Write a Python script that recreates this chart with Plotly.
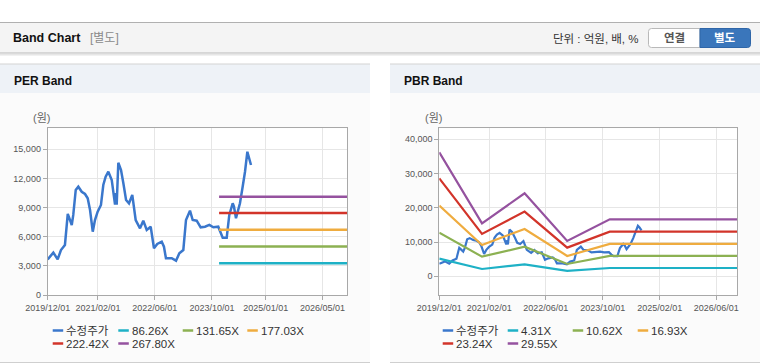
import plotly.graph_objects as go

W, H = 760, 364

# ---------------- data ----------------
price_dates = [
    "2019-12-01", "2020-01-18", "2020-02-24", "2020-03-23", "2020-04-26", "2020-05-20",
    "2020-06-08", "2020-06-23", "2020-07-06", "2020-07-27", "2020-08-18", "2020-09-16",
    "2020-10-14", "2020-11-06", "2020-11-26", "2020-12-19", "2021-01-07", "2021-01-30",
    "2021-02-27", "2021-03-19", "2021-04-08", "2021-05-01", "2021-05-30", "2021-06-18",
    "2021-06-27", "2021-07-05", "2021-07-11", "2021-07-25", "2021-08-17", "2021-09-06",
    "2021-09-29", "2021-10-24", "2021-11-21", "2021-12-20", "2022-01-26", "2022-02-23",
    "2022-03-24", "2022-04-27", "2022-05-25", "2022-06-22", "2022-07-30", "2022-08-18",
    "2022-09-04", "2022-10-23", "2022-11-29", "2022-12-27", "2023-01-30", "2023-02-22",
    "2023-03-28", "2023-04-20", "2023-05-24", "2023-06-27", "2023-08-03", "2023-09-09",
    "2023-10-13", "2023-11-24", "2023-12-15", "2024-01-01", "2024-02-04", "2024-02-26",
    "2024-03-26", "2024-04-06", "2024-04-23", "2024-05-08", "2024-05-27", "2024-06-19",
    "2024-07-09", "2024-07-29", "2024-08-12", "2024-08-29",
]
price_values = [
    3670, 4360, 3670, 4630, 5150, 8340,
    7720, 7210, 8240, 10810, 11150, 10630,
    10400, 9950, 8750, 6520, 7720, 8580,
    9270, 11320, 12180, 12690, 11840, 10400,
    9300, 10500, 9300, 13620, 12870, 11500,
    9780, 9440, 10300, 7720, 6860, 7650,
    6690, 7030, 4810, 5250, 5490, 4970,
    3780, 3780, 3530, 4290, 4630, 7720,
    8680, 7720, 7650, 6970, 7030, 7210,
    6970, 7030, 6350, 5900, 5900, 8240,
    9440, 9090, 7900, 8580, 9440, 11150,
    12690, 14750, 14230, 13380,
]
price_name = "수정주가"

per_names = ["86.26X", "131.65X", "177.03X", "222.42X", "267.80X"]
per_band_dates = ["2023-12-01", "2026-12-01"]
per_band_values = [3280, 4990, 6720, 8440, 10120]

pbr_names = ["4.31X", "10.62X", "16.93X", "23.24X", "29.55X"]
pbr_band_dates = ["2019-12-01", "2020-12-01", "2021-12-01", "2022-12-01", "2023-12-01", "2026-12-01"]
pbr_band_4_31 = [5160, 2140, 3500, 1560, 2430, 2430]
pbr_band_10_62 = [12750, 5740, 8660, 3600, 5940, 5940]
pbr_band_16_93 = [20630, 9150, 13820, 5940, 9440, 9440]
pbr_band_23_24 = [28610, 12360, 18880, 8370, 13040, 13040]
pbr_band_29_55 = [36200, 15470, 24230, 10320, 16640, 16640]
pbr_band_values = [pbr_band_4_31, pbr_band_10_62, pbr_band_16_93, pbr_band_23_24, pbr_band_29_55]

per_tickvals = ["2019-12-01", "2021-02-01", "2022-06-01", "2023-10-01", "2025-01-01", "2026-05-01"]
per_ticktext = ["2019/12/01", "2021/02/01", "2022/06/01", "2023/10/01", "2025/01/01", "2026/05/01"]
pbr_tickvals = ["2019-12-01", "2021-02-01", "2022-06-01", "2023-10-01", "2025-02-01", "2026-06-01"]
pbr_ticktext = ["2019/12/01", "2021/02/01", "2022/06/01", "2023/10/01", "2025/02/01", "2026/06/01"]
x_range = ["2019-12-01", "2026-11-28"]

price_color = "#3a77cc"
band_colors = ["#1eb1c6", "#8cb152", "#efac3f", "#d2342a", "#95529f"]

# ---------------- helpers ----------------
def fx(x):
    return x / W

def fy(y):
    return 1 - y / H

shapes = []
annotations = []

def rect(x0, y0, x1, y1, fill, line=None, lw=0):
    shapes.append(dict(type="rect", xref="paper", yref="paper", layer="below",
                       x0=fx(x0), x1=fx(x1), y0=fy(y1), y1=fy(y0),
                       fillcolor=fill, line=dict(width=lw, color=line or fill)))

def hline(x0, x1, y, color, lw=1):
    shapes.append(dict(type="line", xref="paper", yref="paper", layer="below",
                       x0=fx(x0), x1=fx(x1), y0=fy(y), y1=fy(y),
                       line=dict(width=lw, color=color)))

def text(x, y, s, size=12, color="#222", bold=False, xanchor="left", family="Liberation Sans, Noto Sans CJK KR"):
    annotations.append(dict(xref="paper", yref="paper", x=fx(x), y=fy(y), text=("<b>%s</b>" % s) if bold else s,
                            showarrow=False, xanchor=xanchor, yanchor="middle",
                            font=dict(size=size, color=color, family=family)))

def rounded_path(x0, y0, x1, y1, r, left=True, right=True):
    X = lambda v: fx(v)
    Y = lambda v: fy(v)
    p = []
    if left:
        p.append("M %f %f" % (X(x0 + r), Y(y0)))
    else:
        p.append("M %f %f" % (X(x0), Y(y0)))
    if right:
        p.append("L %f %f Q %f %f %f %f" % (X(x1 - r), Y(y0), X(x1), Y(y0), X(x1), Y(y0 + r)))
        p.append("L %f %f Q %f %f %f %f" % (X(x1), Y(y1 - r), X(x1), Y(y1), X(x1 - r), Y(y1)))
    else:
        p.append("L %f %f L %f %f" % (X(x1), Y(y0), X(x1), Y(y1)))
    if left:
        p.append("L %f %f Q %f %f %f %f" % (X(x0 + r), Y(y1), X(x0), Y(y1), X(x0), Y(y1 - r)))
        p.append("L %f %f Q %f %f %f %f Z" % (X(x0), Y(y0 + r), X(x0), Y(y0), X(x0 + r), Y(y0)))
    else:
        p.append("L %f %f Z" % (X(x0), Y(y1)))
    return " ".join(p)

# ---------------- page chrome ----------------
rect(0, 22, 760, 53, "#f4f4f4")
hline(0, 760, 22.5, "#b0b0b0", 1)
hline(0, 760, 53, "#b8b8b8", 1)
hline(0, 760, 54.2, "#d8d8d8", 1)
hline(0, 760, 55.3, "#eeeeee", 1)
text(11, 38.5, "Band Chart", 12.5, "#111", bold=True)
text(88, 38.5, "[별도]", 12, "#8a8a8a")
text(641, 39, "단위 : 억원, 배, %", 11.5, "#333", xanchor="right")
shapes.append(dict(type="path", xref="paper", yref="paper", layer="below",
                   path=rounded_path(648.5, 28.5, 700, 47.5, 3, left=True, right=False),
                   fillcolor="#ffffff", line=dict(color="#b9b9b9", width=1)))
shapes.append(dict(type="path", xref="paper", yref="paper", layer="below",
                   path=rounded_path(700, 28.5, 750.5, 47.5, 3, left=False, right=True),
                   fillcolor="#3a76bb", line=dict(color="#2f66a8", width=1)))
text(674.3, 38.5, "연결", 11.5, "#555", bold=True, xanchor="center")
text(725.3, 38.5, "별도", 11.5, "#ffffff", bold=True, xanchor="center")

panels = [(0, 370, "PER Band"), (390, 760, "PBR Band")]
for (px0, px1, title) in panels:
    rect(px0, 64, px1, 93, "#eef2f7")
    rect(px0, 93, px1, 362, "#fbfbfb")
    hline(px0, px1, 64, "#d3d3d3", 1)
    hline(px0, px1, 362.5, "#cfcfcf", 1.2)
    text(px0 + 11.5, 80.5, title, 12, "#111", bold=True)

# plot area backgrounds
rect(47.7, 128.3, 347.3, 295, "#ffffff")
rect(439.3, 128.3, 737.3, 295, "#ffffff")

text(31, 118, "(원)", 11, "#666")
text(423, 118, "(원)", 11, "#666")

# ---------------- traces ----------------
fig = go.Figure()
fig.add_trace(go.Scatter(x=price_dates, y=price_values, mode="lines", name=price_name,
                         line=dict(color=price_color, width=2.5), xaxis="x", yaxis="y", showlegend=False))
for name, val, col in zip(per_names, per_band_values, band_colors):
    fig.add_trace(go.Scatter(x=per_band_dates, y=[val, val], mode="lines", name=name,
                             line=dict(color=col, width=2.5), xaxis="x", yaxis="y", showlegend=False))
fig.add_trace(go.Scatter(x=price_dates, y=price_values, mode="lines", name=price_name,
                         line=dict(color=price_color, width=2.2), xaxis="x2", yaxis="y2", showlegend=False))
for name, vals, col in zip(pbr_names, pbr_band_values, band_colors):
    fig.add_trace(go.Scatter(x=pbr_band_dates, y=vals, mode="lines", name=name,
                             line=dict(color=col, width=2.2), xaxis="x2", yaxis="y2", showlegend=False))

# ---------------- manual legends ----------------
def legend(items, colors, positions):
    for (lab, col, (lx, ly)) in zip(items, colors, positions):
        shapes.append(dict(type="line", xref="paper", yref="paper",
                           x0=fx(lx), x1=fx(lx + 10.5), y0=fy(ly), y1=fy(ly),
                           line=dict(color=col, width=2.5)))
        text(lx + 11.5, ly, lab, 11.5, "#333")

per_pos = [(52.7, 330.5), (118.3, 330.5), (182.7, 330.5), (247.3, 330.5), (52.7, 343.5), (118.3, 343.5)]
pbr_pos = [(442.7, 330.5), (507.7, 330.5), (572.7, 330.5), (637.7, 330.5), (442.7, 343.5), (507.7, 343.5)]
legend([price_name] + per_names, [price_color] + band_colors, per_pos)
legend([price_name] + pbr_names, [price_color] + band_colors, pbr_pos)

# ---------------- axes ----------------
ydom = [fy(295), fy(128.3)]
tickfont = dict(size=9, color="#555", family="Liberation Sans, Noto Sans CJK KR")
common_x = dict(type="date", range=x_range, showgrid=True, gridcolor="#e6e6e6", gridwidth=1,
                showline=True, linecolor="#a8a8a8", linewidth=1, mirror=True,
                ticks="outside", ticklen=4, tickcolor="#a8a8a8", tickfont=tickfont, zeroline=False,
                fixedrange=True, automargin=False)
common_y = dict(showgrid=True, gridcolor="#e6e6e6", gridwidth=1, showline=True, linecolor="#a8a8a8",
                linewidth=1, mirror=True, ticks="outside", ticklen=4, tickcolor="#a8a8a8",
                tickfont=tickfont, zeroline=False, tickformat=",d", fixedrange=True, automargin=False)

fig.update_layout(
    width=W, height=H, margin=dict(l=0, r=0, t=0, b=0, pad=0, autoexpand=False),
    autosize=False,
    paper_bgcolor="#ffffff", plot_bgcolor="rgba(0,0,0,0)",
    showlegend=False,
    xaxis=dict(common_x, domain=[fx(47.7), fx(347.3)], anchor="y",
               tickvals=per_tickvals, ticktext=per_ticktext),
    yaxis=dict(common_y, domain=ydom, anchor="x", range=[0, 17160],
               tickvals=[0, 3000, 6000, 9000, 12000, 15000]),
    xaxis2=dict(common_x, domain=[fx(439.3), fx(737.3)], anchor="y2",
                tickvals=pbr_tickvals, ticktext=pbr_ticktext),
    yaxis2=dict(common_y, domain=ydom, anchor="x2", range=[-5460, 43210],
                tickvals=[0, 10000, 20000, 30000, 40000]),
    shapes=shapes, annotations=annotations,
)

post = ("document.documentElement.style.margin='0';document.body.style.margin='0';"
        "document.body.style.padding='0';document.body.style.overflow='hidden';"
        "document.documentElement.style.overflow='hidden';")
fig.write_html("out.html", config=dict(displayModeBar=False), post_script=post)
